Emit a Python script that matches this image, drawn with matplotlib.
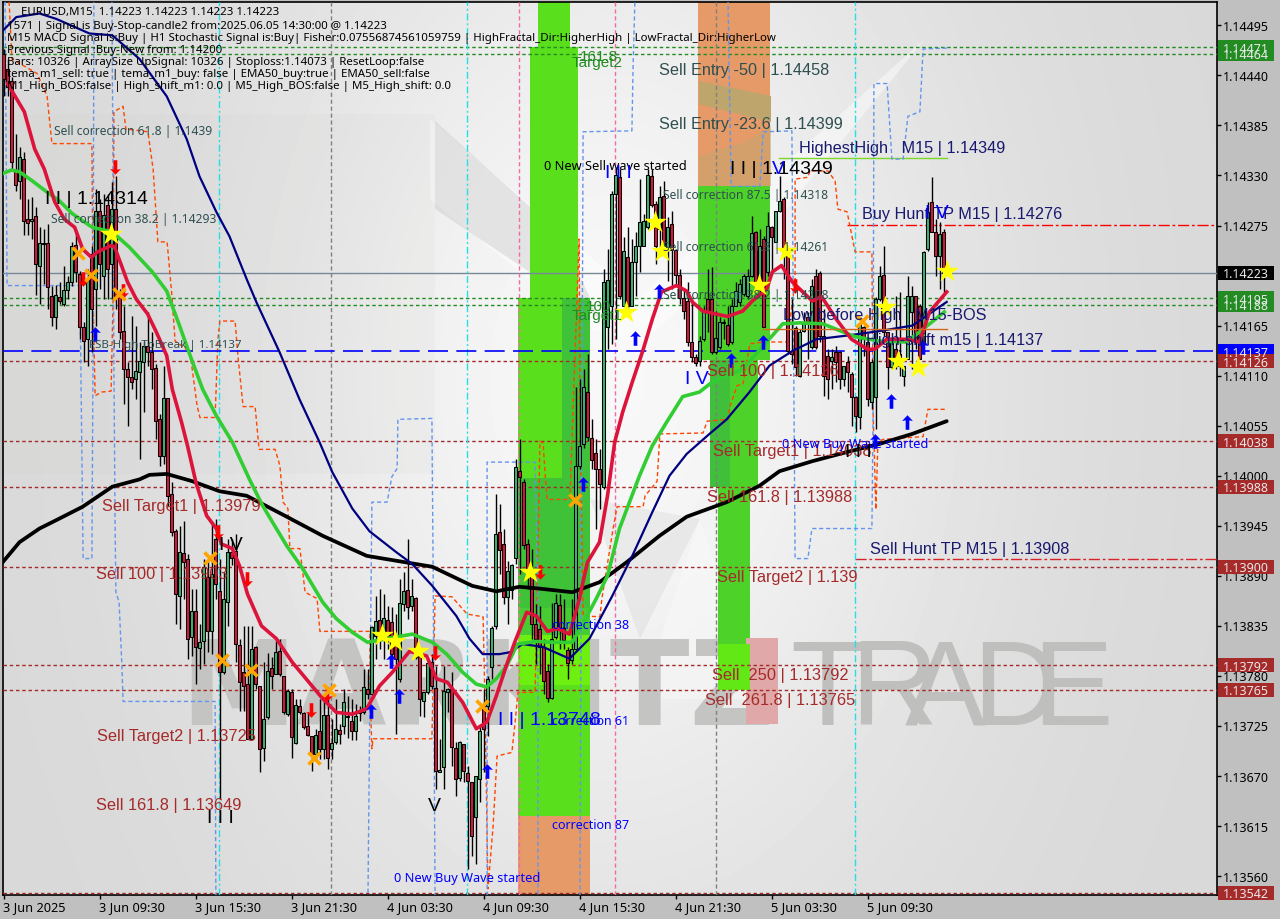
import numpy as np
import matplotlib
matplotlib.use("Agg")
import matplotlib.pyplot as plt
from matplotlib.patches import Rectangle, Polygon
from matplotlib.path import Path
from matplotlib.transforms import Affine2D

# ---- prices are stored in 1e-5 units above 1.0 (14223 = 1.14223)
opens = [14463,14447,14434,14335,14324,14348,14282,14280,14285,14230,
14255,14256,14198,14175,14196,14189,14204,14213,14254,14222,
14163,14150,14244,14205,14291,14220,14298,14233,14293,14198,
14159,14117,14108,14106,14114,14125,14143,14136,14118,14062,
14022,14085,13980,13939,13868,13915,13908,13823,13851,13811,
13818,13889,13829,13931,13873,13784,13861,13916,13917,13814,
13784,13771,13711,13812,13769,13701,13735,13789,13782,13807,
13780,13738,13762,13706,13747,13739,13725,13714,13694,13719,
13700,13737,13700,13707,13721,13725,13735,13730,13719,13739,
13740,13766,13760,13824,13841,13824,13841,13839,13824,13777,
13859,13874,13857,13866,13802,13753,13762,13795,13767,13674,
13680,13762,13766,13701,13668,13705,13673,13664,13625,13667,
13747,13747,13790,13835,13938,13925,13867,13875,13910,14005,
13993,13925,13898,13837,13832,13812,13785,13756,13823,13858,
13833,13808,13798,13810,14011,14035,14092,14042,14025,14007,
13988,14163,14187,14310,14328,14187,14240,14187,14235,14252,
14252,14273,14329,14299,14271,14307,14248,14277,14248,14221,
14195,14192,14147,14130,14126,14150,14194,14194,14136,14142,
14168,14166,14147,14187,14191,14200,14197,14220,14268,14205,
14260,14224,14273,14257,14291,14304,14241,14137,14162,14110,
14159,14175,14142,14220,14223,14154,14132,14126,14136,14136,
14106,14125,14112,14086,14065,14163,14147,14081,14087,14194,
14221,14158,14120,14139,14134,14110,14128,14180,14198,14187,
14147,14249,14301,14268,14242,14268]
highs = [14469,14458,14438,14375,14361,14356,14304,14306,14295,14273,
14271,14277,14208,14210,14213,14230,14220,14257,14268,14225,
14169,14227,14252,14315,14304,14310,14310,14323,14329,14205,
14186,14125,14176,14165,14147,14148,14180,14158,14123,14068,
14121,14085,13993,13941,13945,13950,13914,13876,13876,13837,
13909,13909,13949,13952,13909,13894,13931,13931,13936,13821,
13835,13835,13835,13813,13769,13795,13805,13801,13818,13821,
13780,13766,13766,13755,13755,13740,13740,13714,13722,13755,
13755,13755,13733,13755,13727,13766,13758,13755,13749,13747,
13788,13788,13835,13868,13876,13870,13857,13856,13848,13887,
13894,13931,13887,13867,13802,13762,13799,13804,13791,13711,
13791,13767,13784,13707,13708,13705,13681,13664,13670,13725,
13766,13780,13835,13980,13969,13942,13906,13903,14018,14040,
13996,13931,13920,13859,13857,13821,13793,13860,13870,13870,
13865,13812,13865,14098,14106,14117,14134,14062,14040,14029,
14227,14249,14313,14339,14337,14262,14273,14260,14268,14326,
14288,14337,14337,14302,14318,14324,14284,14291,14249,14227,
14205,14213,14194,14134,14154,14186,14227,14229,14181,14174,
14172,14187,14194,14213,14216,14222,14227,14285,14269,14271,
14264,14290,14274,14291,14329,14306,14241,14194,14165,14161,
14180,14180,14216,14227,14225,14183,14139,14139,14143,14137,
14121,14132,14114,14088,14167,14165,14150,14128,14196,14231,
14252,14158,14152,14198,14202,14121,14220,14209,14198,14189,
14247,14301,14328,14282,14279,14271]
lows = [14417,14417,14337,14313,14304,14265,14265,14260,14199,14189,
14211,14183,14165,14161,14189,14186,14194,14208,14213,14150,
14125,14121,14136,14165,14205,14194,14194,14194,14183,14150,
14079,14055,14095,14084,14018,14070,14121,14095,14040,14011,
14013,13967,13934,13837,13832,13865,13799,13802,13771,13788,
13793,13806,13804,13865,13645,13782,13835,13902,13795,13741,
13741,13711,13711,13766,13674,13687,13733,13766,13782,13780,
13738,13736,13690,13705,13738,13722,13714,13676,13689,13689,
13689,13678,13689,13705,13705,13716,13712,13710,13710,13730,
13738,13755,13758,13799,13810,13799,13810,13793,13716,13773,
13851,13843,13851,13799,13736,13735,13760,13766,13656,13674,
13656,13740,13681,13648,13665,13663,13568,13582,13573,13642,
13674,13714,13777,13832,13892,13859,13837,13865,13903,13892,
13920,13876,13821,13793,13782,13760,13751,13755,13821,13810,
13810,13777,13793,13809,14007,14031,14038,14007,13942,13963,
13985,14139,14145,14150,14194,14187,14183,14187,14198,14224,
14252,14271,14295,14233,14244,14252,14214,14205,14211,14189,
14172,14143,14125,14121,14121,14148,14158,14134,14134,14139,
14150,14143,14145,14187,14187,14198,14194,14218,14205,14200,
14163,14220,14224,14257,14290,14216,14134,14123,14110,14109,
14158,14128,14139,14139,14147,14088,14084,14095,14103,14095,
14099,14092,14055,14048,14051,14132,14077,14073,14051,14192,
14154,14095,14117,14117,14110,14099,14128,14117,14139,14128,
14147,14247,14268,14220,14205,14202]
closes = [14436,14427,14345,14320,14350,14280,14278,14282,14233,14256,
14256,14207,14175,14199,14192,14204,14213,14252,14224,14163,
14148,14216,14183,14291,14233,14287,14227,14293,14198,14158,
14117,14108,14103,14115,14126,14143,14136,14117,14060,14022,
14085,13978,13938,13870,13916,13905,13821,13851,13812,13817,
13900,13829,13892,13881,13784,13865,13916,13910,13815,13773,
13769,13711,13810,13771,13700,13733,13785,13780,13806,13782,
13740,13763,13713,13748,13740,13724,13715,13694,13715,13700,
13737,13690,13706,13722,13716,13751,13736,13719,13736,13741,
13768,13760,13834,13840,13821,13844,13821,13804,13799,13860,
13873,13856,13868,13801,13755,13762,13794,13769,13676,13677,
13763,13766,13702,13667,13707,13676,13665,13604,13670,13720,
13722,13777,13833,13936,13918,13867,13895,13902,14010,13999,
13924,13898,13837,13821,13812,13774,13756,13821,13860,13833,
13820,13794,13810,14011,14033,14098,14043,14017,14007,13991,
14213,14215,14310,14331,14198,14247,14187,14235,14252,14279,
14280,14331,14298,14252,14306,14252,14273,14248,14221,14195,
14181,14147,14130,14124,14148,14181,14180,14136,14151,14169,
14169,14145,14187,14203,14211,14220,14220,14267,14211,14253,
14163,14274,14262,14291,14302,14241,14137,14134,14120,14158,
14169,14169,14209,14142,14154,14110,14106,14131,14125,14106,
14121,14114,14087,14066,14167,14150,14084,14125,14194,14220,
14158,14120,14150,14121,14121,14121,14198,14198,14147,14128,
14246,14290,14268,14242,14266,14223]

red_x = [1,5.2,7.8,10.2,12.8,15.2,17.8,19.8,22,23.5,27,27.8,29.5,31,33.2,36,38.2,40.8,42.2,44.5,46,48.2,50.8,53.2,54.5,57.2,59,61,64.5,68.2,72.2,76,79.8,83.2,87.2,90.8,94,97.2,101.5,105.8,108.2,111,114.8,118.2,120.8,123.2,126,127.8,130.8,133.2,136,138.5,141.5,144,144.5,146,149,151,152.8,154.8,157.2,159.8,162.2,164.5,168.2,170.8,172.2,174.8,181,184.8,187.2,190.8,192.2,194.5,197.2,202.2,204.5,208.2,212,216,217.8,220.8,225.8,229,231.5,235.8]
red_y = [14431,14400,14359,14337,14301,14282,14273,14249,14240,14246,14253,14251,14231,14213,14194,14178,14158,14132,14095,14059,14033,13991,13956,13942,13925,13920,13901,13870,13835,13821,13795,13775,13755,13740,13738,13744,13769,13784,13807,13802,13777,13773,13751,13722,13729,13758,13795,13817,13850,13846,13829,13832,13826,13865,13876,13905,13927,13978,14037,14070,14103,14137,14172,14202,14209,14203,14191,14181,14175,14181,14192,14205,14224,14231,14213,14192,14197,14172,14150,14139,14139,14150,14150,14147,14180,14202]
green_x = [-0.2,2,4,7.2,10.8,14,17.2,22.2,27.2,31.5,37.2,40.8,44,47,49.8,53.2,57.2,61.5,64.8,70.8,74.8,79.8,83.2,87.2,91,95.8,102.2,107.2,110.8,114.8,118.2,120.8,123.2,125.8,128.5,133.2,137.2,142.2,144.8,148.2,151,154,159,162.2,165.8,169.8,174,177.2,184.8,192.2,194.8,199,204.8,208.2,212.8,219,225.8,229,235.2]
green_y = [14332,14336,14334,14324,14312,14302,14288,14273,14268,14251,14224,14203,14165,14128,14095,14066,14037,13996,13967,13923,13898,13861,13843,13828,13817,13821,13826,13817,13804,13784,13771,13768,13777,13791,13815,13818,13817,13817,13837,13865,13890,13942,14000,14033,14059,14087,14092,14103,14117,14154,14167,14168,14167,14161,14153,14148,14147,14158,14180]
navy_x = [-0.2,3.2,9,13.2,21.5,27.2,34,40.8,45.8,49,53.2,56.5,60.8,63.2,69,74,79,82.2,87.2,91.5,98.2,102.2,107.2,113.2,116.5,119.8,124,126.5,129.8,134.8,141.5,146.5,152.2,157.2,162.2,166.5,170.8,176.5,180.8,186.5,191.5,197.2,203.2,210.8,219,227.2,235.8]
navy_y = [14489,14504,14508,14502,14486,14484,14458,14417,14370,14329,14290,14263,14216,14191,14136,14084,14037,14004,13964,13939,13916,13903,13879,13846,13821,13804,13804,13806,13815,13812,13799,13821,13868,13912,13960,14000,14024,14046,14062,14092,14121,14137,14150,14154,14159,14165,14191]
black_x = [-0.2,4,9,14,19.8,27.2,34,36.5,40.8,47.2,54,60.8,70.8,79.8,90.8,99,107.2,117.2,123.2,129,134,142.2,149,155.8,164,170.8,180.8,189,194,202.2,210.8,219,227.2,235.8]
black_y = [13905,13927,13942,13953,13966,13988,13996,14001,14002,13994,13983,13978,13955,13934,13912,13906,13900,13879,13873,13878,13876,13872,13883,13905,13934,13955,13971,13989,14005,14016,14026,14035,14046,14060]

orange_x = [1.4,2.1,8.4,10.9,12.1,22.1,22.4,22.9,24.6,26.9,27.4,27.6,29.9,30.6,36.1,37.4,38.6,40.9,42.1,42.9,46.6,48.4,49.1,52.9,53.6,54.1,57.9,58.6,59.9,62.9,63.9,67.9,69.1,69.9,71.1,71.6,74.1,75.4,78.4,79.1,91.6,91.6,92.1,92.4,107.1,107.9,112.1,115.9,119.9,120.4,121.1,122.4,123.4,127.1,127.9,128.6,132.9,133.4,134.1,134.9,135.4,135.9,141.6,143.9,144.1,144.9,149.1,149.6,152.4,153.4,159.9,160.4,163.4,164.1,174.9,175.9,181.1,181.6,183.4,184.9,186.6,189.9,195.9,197.9,197.9,201.1,201.6,206.1,207.9,208.6,210.9,212.9,217.1,217.4,218.1,218.6,219.9,229.9,231.1,235.4]
orange_y = [14521,14458,14442,14417,14365,14365,14194,14088,14092,14093,14194,14400,14406,14381,14378,14337,14257,14257,14198,14148,14136,14077,14064,14064,14150,14170,14170,14132,14076,14076,14029,14029,14011,13971,13964,13920,13920,13872,13865,13829,13829,13766,13700,13711,13711,13868,13867,13848,13845,13747,13546,13615,13692,13696,13729,13762,13762,13865,14038,14036,14002,13974,13974,14260,14084,13846,13845,13865,13942,13966,13966,13978,13994,14046,14047,14060,14062,14076,14099,14101,14145,14147,14147,14213,14326,14328,14335,14335,14324,14293,14290,14246,14246,14070,13963,14037,14040,14043,14073,14073]
blue_x = [0.4,0.9,19.1,19.6,19.9,22.1,22.4,22.6,27.1,27.4,27.6,27.9,28.1,28.9,29.6,29.9,52.9,53.1,91.1,91.6,92.1,95.9,97.1,98.4,98.6,107.1,107.4,107.9,120.9,120.9,132.9,133.6,133.6,144.1,144.9,157.1,157.4,157.9,181.1,181.9,189.1,189.9,197.1,197.4,197.9,201.1,202.1,217.1,217.4,217.6,220.9,222.1,224.9,226.1,229.1,229.9,235.9]
blue_y = [14521,14209,14209,14022,13909,13909,14147,14530,14530,14315,14121,13945,13872,13861,13791,13752,13752,13530,13530,13755,13971,13971,13999,14008,14062,14063,13901,13530,13530,14015,14015,13872,13530,13530,14378,14379,14450,14530,14530,14318,14318,14378,14379,14213,13909,13909,13942,13942,14070,14431,14431,14348,14348,14395,14400,14469,14470]

star_x = [26.9,94.6,97.9,103.6,131.6,155.6,162.9,164.6,188.9,195.6,220.4,223.6,228.6,235.9]
star_y = [14266,13825,13818,13807,13894,14180,14279,14247,14210,14247,14185,14126,14120,14225]
cross_x = [18.6,21.9,28.9,51.6,54.6,61.9,81.4,77.6,119.6,142.9,214.6]
cross_y = [14245,14221,14200,13910,13798,13787,13765,13690,13747,13973,14170]
down_x = [27.9,19.9,29.9,53.6,60.9,76.9,80.9,107.9,134.1,197.9]
down_y = [14339,14216,14203,13938,13887,13743,13760,13805,13894,14209]
up_x = [22.9,91.9,96.9,98.9,120.9,144.9,157.9,163.9,181.9,189.9,217.9,221.9,225.9,229.9]
up_y = [14156,13741,13796,13758,13676,13991,14151,14203,14127,14147,14038,14082,14059,14142]

green_levels = [14471,14464,14195,14188]
brown_levels = [14126,14038,13988,13900,13792,13765,13542]
tick_prices = ["1.14495","1.14440","1.14385","1.14330","1.14275","1.14165","1.14110","1.14055","1.14000","1.13945","1.13890","1.13835","1.13780","1.13725","1.13670","1.13615","1.13560"]
time_labels = ["3 Jun 2025","3 Jun 09:30","3 Jun 15:30","3 Jun 21:30","4 Jun 03:30","4 Jun 09:30","4 Jun 15:30","4 Jun 21:30","5 Jun 03:30","5 Jun 09:30"]
price_boxes = [("1.14464",14464,"#228B22"),("1.14471",14471,"#228B22"),("1.14195",14195,"#228B22"),("1.14188",14188,"#228B22"),
               ("1.14223",14223,"#000000"),("1.14137",14137,"#0000FF"),("1.14126",14126,"#A52A2A"),("1.14038",14038,"#A52A2A"),
               ("1.13988",13988,"#A52A2A"),("1.13900",13900,"#A52A2A"),("1.13792",13792,"#A52A2A"),("1.13765",13765,"#A52A2A"),("1.13542",13542,"#A52A2A")]
# trading zones: left bar, right bar, top price, bottom price, colour
zones = [(133.6,141.6,14525,14471,"#5ADF1D"),(131.6,143.6,14471,14195,"#5ADF1D"),(128.6,146.6,14195,13626,"#5ADF1D"),
         (128.6,146.6,13626,13535,"#E59A68"),(173.6,191.6,14525,14318,"#E59A68"),(173.6,191.6,14318,14127,"#4DD22A"),
         (176.6,188.6,14127,13988,"#4DD22A"),(178.6,186.6,13988,13765,"#4DD22A"),(185.6,193.6,13822,13727,"#E0A8A8"),
         (128.6,146.6,13998,13825,"#40C238"),(139.6,146.6,14195,13998,"#40C238"),(176.6,181.6,14127,13988,"#3FBF3A"),
         (128.6,146.6,13825,13770,"#6DF00F"),(128.6,146.6,13855,13825,"#47CC33"),(178.6,186.6,13815,13765,"#62E815")]

# ---- figure geometry
W, H = 1280, 920
fig = plt.figure(figsize=(W/100, H/100), dpi=100, facecolor="#C0C0C0")
ax = fig.add_axes([3/W, 1-896/H, (1216.5-3)/W, 893/H], facecolor="#DEDDDA")
px = Affine2D().scale(1/W, -1/H).translate(0, 1) + fig.transFigure

# ---- background shading
gx, gy = np.meshgrid(np.linspace(0, 1, 256), np.linspace(0, 1, 184))
shade = np.exp(-(((gx-0.5)/0.30)**2 + ((gy-0.42)/0.62)**2))
bg = 0.845 + 0.125*shade
ax.imshow(bg, cmap="gray", vmin=0, vmax=1, extent=(0, 1, 0, 1), transform=ax.transAxes, aspect="auto", zorder=0, interpolation="bilinear")
ax.set_xlim(-0.125, 303.25)
ax.set_ylim(13539.3, 14520.6)
for verts, col, a in [
    ([(430,120),(640,300),(700,240),(925,40),(770,230),(640,345),(590,330),(430,200)], "#FFFFFF", .45),
    ([(435,122),(560,235),(600,320),(435,210)], "#BEBEBE", .35),
    ([(640,700),(700,520),(760,700)], "#FFFFFF", .30),
    ([(590,500),(640,640),(700,520)], "#BEBEBE", .20),
    ([(0,475),(435,475),(435,115),(0,115)], "#C8C8C6", .10),
]:
    ax.add_patch(Polygon(verts, closed=True, transform=px, fc=col, ec="none", alpha=a, zorder=0.5))

# ---- watermark
ax.text(180, 725, "MARKITZ", transform=px, fontsize=84, family="DejaVu Sans", weight="bold", color="#C4C4C2", va="baseline", ha="left", zorder=1, clip_on=True)
for ch, xp in zip("TRADE", [790, 850, 905, 972, 1032]):
    ax.text(xp, 725, ch, transform=px, fontsize=87, family="Liberation Sans", color="#BFBFBD", va="baseline", ha="left", zorder=1)

# ---- zones
for l, r, t, b, c in zones:
    ax.add_patch(Rectangle((l, b), r-l, t-b, fc=c, ec="none", zorder=2))
for verts, col, a in [([(699,82),(771,97),(771,123),(699,105)], "#BDA56B", 1), ([(699,157),(745,143),(771,127),(771,187),(699,187)], "#C8A56E", .6)]:
    ax.add_patch(Polygon(verts, closed=True, transform=px, fc=col, ec="none", alpha=a, zorder=2.1))

# ---- horizontal / vertical levels
for p in green_levels:
    ax.axhline(p, color="#228B22", lw=1, ls=(0, (2.5, 2)), zorder=3)
for p in brown_levels:
    ax.axhline(p, color="#A52A2A", lw=1, ls=(0, (2.5, 2)), zorder=3)
ax.axhline(14223, color="#778899", lw=1, zorder=3)
ax.axhline(14137, color="#0000FF", lw=1.2, ls=(0, (12, 5)), zorder=3.6)
ax.plot([210.9, 303.25], [14276, 14276], color="#FF0000", lw=1, ls=(0, (8, 2, 2, 2)), zorder=3)
ax.plot([212.9, 303.25], [13908, 13908], color="#D8232A", lw=1, ls=(0, (8, 2, 2, 2)), zorder=3)
ax.plot([193.9, 235.9], [14349, 14349], color="#7FD62A", lw=1, zorder=3)
ax.plot([189.9, 235.9], [14161, 14161], color="#D2691E", lw=1, zorder=5.5)
for b in [81.9, 178]:
    ax.axvline(b, color="#808080", lw=1, ls=(0, (3, 2)), zorder=3)
for b in [53.9, 115.9, 212.9]:
    ax.axvline(b, color="#22E0E8", lw=1, ls=(0, (5, 2, 1.5, 2)), zorder=3)
for b in [128.9, 152.9]:
    ax.axvline(b, color="#F06CA8", lw=1, ls=(0, (3, 2)), zorder=3)
ax.plot(orange_x, orange_y, color="#FF4500", lw=1, ls=(0, (3, 2)), zorder=3.2)
ax.plot(blue_x, blue_y, color="#6495ED", lw=1, ls=(0, (3, 2)), zorder=3.2)

# ---- candles
o, h, l_, c = map(np.array, (opens, highs, lows, closes))
idx = np.arange(len(o))
assert len(o) == len(h) == len(l_) == len(c)
ax.vlines(idx, l_, h, color="black", lw=1, zorder=4)
up = c >= o
ax.bar(idx[up], (c-o)[up], bottom=o[up], width=0.68, color="#3CB371", edgecolor="black", lw=0.75, zorder=4.2)
ax.bar(idx[~up], (o-c)[~up], bottom=c[~up], width=0.68, color="#DC143C", edgecolor="black", lw=0.75, zorder=4.2)

# ---- moving averages
ax.plot(black_x, black_y, color="black", lw=2.7, zorder=5, solid_capstyle="round")
ax.plot(navy_x, navy_y, color="#000080", lw=1.6, zorder=5.1)
ax.plot(green_x, green_y, color="#32CD32", lw=2.6, zorder=5.2)
ax.plot(red_x, red_y, color="#DC143C", lw=2.6, zorder=5.3)

# ---- signals
arrow_up = Path([(0,1),(-.75,.2),(-.25,.3),(-.25,-1),(.25,-1),(.25,.3),(.75,.2),(0,1)], closed=True)
arrow_dn = Path([(0,-1),(-.75,-.2),(-.25,-.3),(-.25,1),(.25,1),(.25,-.3),(.75,-.2),(0,-1)], closed=True)
ax.scatter(up_x, up_y, marker=arrow_up, s=110, color="#0000FF", lw=0, zorder=6)
ax.scatter(down_x, down_y, marker=arrow_dn, s=110, color="#FF0000", lw=0, zorder=6)
ax.scatter(cross_x, cross_y, marker="x", s=75, color="#FFA500", lw=2.6, zorder=6.1)
ax.scatter(star_x, star_y, marker="*", s=300, color="#FFFF00", lw=0, zorder=6.2)

# ---- text
def T(x, y, s, color="black", size=9, family="Noto Sans", weight="normal", z=7):
    ax.text(x, y+1, s, transform=px, color=color, fontsize=size, family=family, weight=weight, va="center", ha="left", zorder=z, clip_on=False)

header = [(21,12,"EURUSD,M15  1.14223 1.14223 1.14223 1.14223"),
 (7,25,"1571 | Signal is Buy-Stop-candle2 from:2025.06.05 14:30:00 @ 1.14223"),
 (7,37,"M15 MACD Signal is:Buy | H1 Stochastic Signal is:Buy| Fisher:0.07556874561059759 | HighFractal_Dir:HigherHigh | LowFractal_Dir:HigherLow"),
 (7,49,"Previous Signal :Buy-New from: 1.14200"),
 (7,61,"Bars: 10326 | ArraySize UpSignal: 10326 | Stoploss:1.14073 | ResetLoop:false"),
 (7,73,"tema_m1_sell: true | tema_m1_buy: false | EMA50_buy:true | EMA50_sell:false"),
 (7,85,"M1_High_BOS:false | High_shift_m1: 0.0 | M5_High_BOS:false | M5_High_shift: 0.0")]
for x, y, s in header:
    T(x, y, s, size=8.25)

L = "Liberation Sans"
brown = "#A52A2A"; slate = "#2F4F4F"; navy = "#191970"
labels = [
 (54,130,"Sell correction 61.8 | 1.1439",slate,8.7),(51,218,"Sell correction 38.2 | 1.14293",slate,8.7),
 (663,195,"Sell correction 87.5 | 1.14318",slate,8.7),(663,247,"Sell correction 61.8 | 1.14261",slate,8.7),(663,295,"Sell correction 38.2 | 1.14208",slate,8.7),
 (89,345,"FSB-High ToBreak | 1.14137",slate,8.3),
 (102,505,"Sell Target1 | 1.13979",brown,11.8),(96,574,"Sell 100 | 1.13903",brown,11.8),(97,736,"Sell Target2 | 1.13725",brown,11.8),(96,805,"Sell 161.8 | 1.13649",brown,11.8),
 (707,371,"Sell 100 | 1.14126",brown,11.8),(713,451,"Sell Target1 | 1.14038",brown,11.8),(707,497,"Sell 161.8 | 1.13988",brown,11.8),(717,577,"Sell Target2 | 1.139",brown,11.8),
 (712,675,"Sell  250 | 1.13792",brown,11.8),(705,700,"Sell  261.8 | 1.13765",brown,11.8),
 (659,69,"Sell Entry -50 | 1.14458",slate,11.7),(659,123,"Sell Entry -23.6 | 1.14399",slate,11.7),
 (799,147,"HighestHigh   M15 | 1.14349",navy,11.7),(862,214,"Buy Hunt TP M15 | 1.14276",navy,11.7),(783,315,"Low before High   M15-BOS",navy,11.7),
 (866,340,"High-shift m15 | 1.14137",navy,11.7),(870,549,"Sell Hunt TP M15 | 1.13908",navy,11.7),
 (45,198,"I I | 1.14314","black",14),(730,168,"I I | 1.14349","black",14),(498,720,"I I | 1.13748","#0000FF",14),
 (394,878,"0 New Buy Wave started","#0000FF",9.2),(782,444,"0 New Buy Wave started","#0000FF",9.2),(544,165,"0 New Sell wave started","black",9.2),
 (552,625,"correction 38","#0000FF",9.0),(552,721,"correction 61","#0000FF",9.0),(552,825,"correction 87","#0000FF",9.0),
 (580,56,"161.8","#228B22",11),(572,62,"Target2","#228B22",11),(586,306,"100","#228B22",11),(572,315,"Target1","#228B22",11),
 (428,806,"V","black",14),(207,818,"I I I","black",14),(219,545,"I V","black",14),(605,172,"I I I","#0000FF",14),
 (685,379,"I V","#0000FF",14),(925,212,"I V","#0000FF",14),(845,452,"I I I","black",14),(772,168,"V","#0000FF",14),
]
for x, y, s, col, sz in labels:
    T(x, y, s, color=col, size=sz, family=L if sz > 9.5 else "Noto Sans")

# ---- axes furniture
for s in ax.spines.values():
    s.set_color("black"); s.set_linewidth(1.2)
ax.set_xticks(np.arange(len(time_labels))*24)
ax.set_xticklabels([])
ax.set_yticks([int(t.replace("1.1","1",1).replace(".","")) for t in tick_prices])
ax.set_yticklabels([])
ax.yaxis.tick_right()
ax.tick_params(axis="both", length=3, width=1, color="black")
for t, lab in zip(ax.get_yticks(), tick_prices):
    yp = 26.3 + (14495 - t)*0.91
    T(1223, yp, lab, size=9)
for i, lab in enumerate(time_labels):
    T(3 + 96*i, 907, lab, size=9.2)
for lab, p, col in price_boxes:
    yp = 26.3 + (14495 - p)*0.91
    ax.add_patch(Rectangle((1218, yp-7), 56, 14, transform=px, fc=col, ec="none", clip_on=False, zorder=8))
    ax.text(1246, yp+1, lab, transform=px, color="#E8E8E8", fontsize=9, family="Noto Sans", ha="center", va="center", zorder=9, clip_on=False)

fig.savefig("out.png", dpi=100, facecolor=fig.get_facecolor())
